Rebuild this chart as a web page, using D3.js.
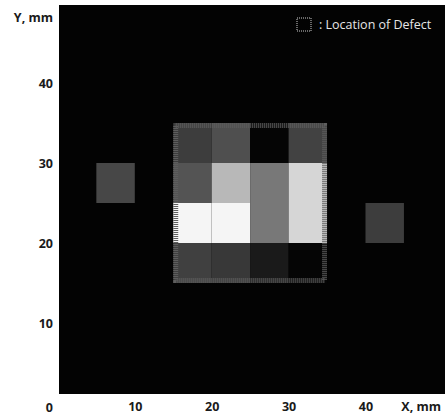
<!DOCTYPE html>
<html>
<head>
<meta charset="utf-8">
<script src="https://cdn.jsdelivr.net/npm/d3@7"></script>
<style>
    body { margin: 0; background: #fff; }
    svg { display: block; }
    .tick text { font-family: "Open Sans", sans-serif; font-weight: 700; font-size: 12.5px; fill: #1a1a1a; }
</style>
</head>
<body>
<svg id="chart" width="445" height="417"></svg>
<script>
// scan grid (mm)
var colStarts = [15, 20, 25, 30];
var rowStarts = [30, 25, 20, 15];
var cellSize = 5;
var amplitude = [
    [0.24, 0.31, 0.02, 0.26],
    [0.33, 0.72, 0.47, 0.84],
    [0.96, 0.96, 0.47, 0.84],
    [0.25, 0.22, 0.10, 0.02]
];
// locations of defect: [x, y, size, amplitude]
var defects = [
    [15, 15, 20, null],
    [5, 25, 5, 0.28],
    [40, 20, 5, 0.24]
];
var xTicks = [10, 20, 30, 40];
var yTicks = [0, 10, 20, 30, 40];

function build_chart() {
    var svg = d3.select("#chart");
    const plot = {left: 59, top: 5, right: 445, bottom: 394};

    var xScale = d3.scaleLinear().domain([0, 50.6]).range([57.9, 447]);
    var yScale = d3.scaleLinear().domain([0, 50]).range([403, 3]);
    var grey = d3.scaleLinear().domain([0, 1]).range(["#000000", "#ffffff"]);

    svg.append("rect")
        .attr("x", plot.left).attr("y", plot.top)
        .attr("width", plot.right - plot.left)
        .attr("height", plot.bottom - plot.top)
        .attr("fill", "#030303");

    var cells = [];
    rowStarts.forEach((y, i) => colStarts.forEach((x, j) => cells.push({x: x, y: y, v: amplitude[i][j]})));

    svg.append("g").selectAll("rect")
        .data(cells).join("rect")
        .attr("x", d => xScale(d.x))
        .attr("y", d => yScale(d.y + cellSize))
        .attr("width", d => xScale(d.x + cellSize) - xScale(d.x))
        .attr("height", d => yScale(d.y) - yScale(d.y + cellSize))
        .attr("fill", d => grey(d.v));

    // small defects have their own fill, the big one is just the dotted frame
    var defectG = svg.append("g");
    defectG.selectAll("rect.fill")
        .data(defects.filter(d => d[3] != null)).join("rect")
        .attr("class", "fill")
        .attr("x", d => xScale(d[0]))
        .attr("y", d => yScale(d[1] + d[2]))
        .attr("width", d => xScale(d[0] + d[2]) - xScale(d[0]))
        .attr("height", d => yScale(d[1]) - yScale(d[1] + d[2]))
        .attr("fill", d => grey(d[3]));
    defectG.selectAll("rect.frame")
        .data(defects.filter(d => d[3] == null)).join("rect")
        .attr("class", "frame")
        .attr("x", d => xScale(d[0]) + 2.5)
        .attr("y", d => yScale(d[1] + d[2]) + 2.5)
        .attr("width", d => xScale(d[0] + d[2]) - xScale(d[0]) - 5)
        .attr("height", d => yScale(d[1]) - yScale(d[1] + d[2]) - 5)
        .attr("fill", "none")
        .attr("stroke", "#5e5e5e")
        .attr("stroke-width", 5)
        .attr("stroke-dasharray", "1 1");

    // axes without lines, labels only
    var xAxis = svg.append("g")
        .attr("transform", "translate(0,399)")
        .call(d3.axisBottom(xScale).tickValues(xTicks).tickSize(0).tickPadding(3));
    xAxis.select(".domain").remove();

    var yAxis = svg.append("g")
        .attr("transform", "translate(53,0)")
        .call(d3.axisLeft(yScale).tickValues(yTicks).tickSize(0).tickPadding(0));
    yAxis.select(".domain").remove();
    yAxis.selectAll(".tick text").filter(d => d == 0).attr("dy", "0.65em");

    svg.append("text")
        .attr("x", 53).attr("y", 22)
        .attr("text-anchor", "end")
        .attr("font-family", "Open Sans, sans-serif")
        .attr("font-weight", 700).attr("font-size", "12.5px")
        .attr("fill", "#1a1a1a")
        .text("Y, mm");
    svg.append("text")
        .attr("x", 441).attr("y", 411)
        .attr("text-anchor", "end")
        .attr("font-family", "Open Sans, sans-serif")
        .attr("font-weight", 700).attr("font-size", "12.5px")
        .attr("fill", "#1a1a1a")
        .text("X, mm");

    // legend
    svg.append("rect")
        .attr("x", 297).attr("y", 18)
        .attr("width", 14).attr("height", 13)
        .attr("fill", "none")
        .attr("stroke", "#8a8a8a")
        .attr("stroke-width", 1.5)
        .attr("stroke-dasharray", "1 1");
    svg.append("text")
        .attr("x", 319).attr("y", 29)
        .attr("font-family", "Open Sans, sans-serif")
        .attr("font-size", "12.5px")
        .attr("fill", "#e6e6e6")
        .text(": Location of Defect");
}

build_chart();
</script>
</body>
</html>
